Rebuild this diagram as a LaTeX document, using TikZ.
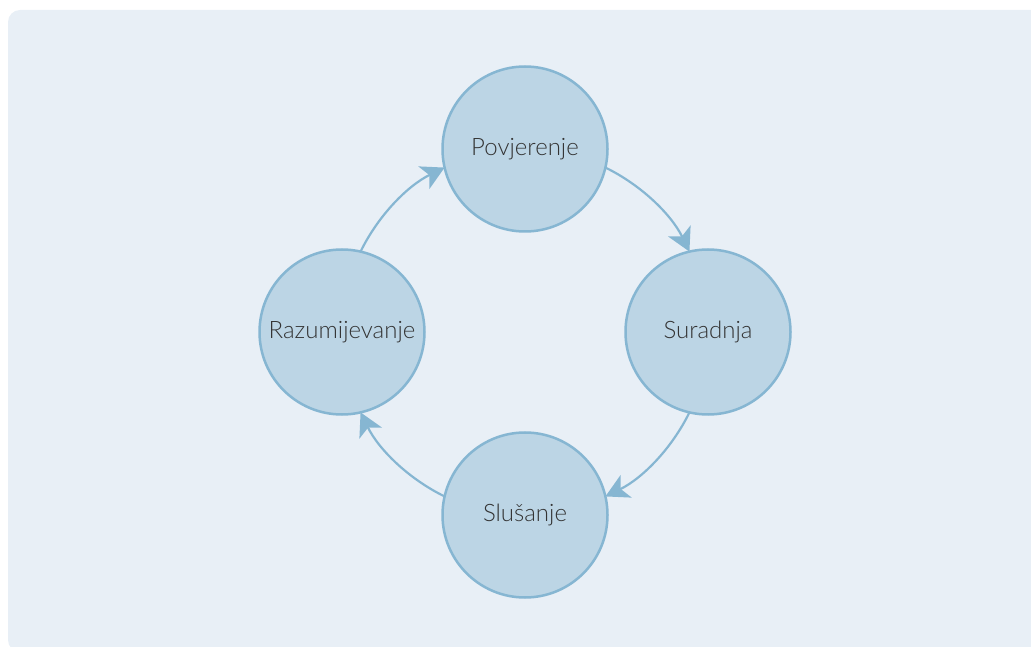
\documentclass[tikz,border=0pt]{standalone}
\usepackage{fontspec}
\setmainfont{Lato Light}
\usetikzlibrary{arrows.meta}
\definecolor{bgcol}{HTML}{E8EFF6}
\definecolor{nodefill}{HTML}{BCD5E5}
\definecolor{nodeline}{HTML}{86B6D2}
\definecolor{txtcol}{HTML}{333333}
\tikzset{
  cyclenode/.style={circle, draw=nodeline, fill=nodefill, line width=2.5pt,
    minimum size=165pt, inner sep=0pt, outer sep=0pt, text=txtcol,
    font=\fontsize{24pt}{28pt}\selectfont},
  cyclearrow/.style={draw=nodeline, line width=2.2pt,
    -{Stealth[length=23pt, width=25pt, inset=6pt]}}
}
\begin{document}
\begin{tikzpicture}[x=1pt,y=1pt]
\clip (0,0) rectangle (1031,646);
\useasboundingbox (0,0) rectangle (1031,646);
\fill[bgcol, rounded corners=12pt] (8,-6) rectangle (1050,636);
\node[cyclenode] (pov) at (525,497) {Povjerenje};
\node[cyclenode] (sur) at (708,314) {Suradnja};
\node[cyclenode] (slu) at (525,131) {Slušanje};
\node[cyclenode] (raz) at (342,314) {Razumijevanje};
\draw[cyclearrow] (raz.77) arc[start angle=153.95, end angle=116.05, radius=183pt];
\draw[cyclearrow] (pov.-13) arc[start angle=63.95, end angle=26.05, radius=183pt];
\draw[cyclearrow] (sur.-103) arc[start angle=-26.05, end angle=-63.95, radius=183pt];
\draw[cyclearrow] (slu.167) arc[start angle=-116.05, end angle=-153.95, radius=183pt];
\end{tikzpicture}
\end{document}
